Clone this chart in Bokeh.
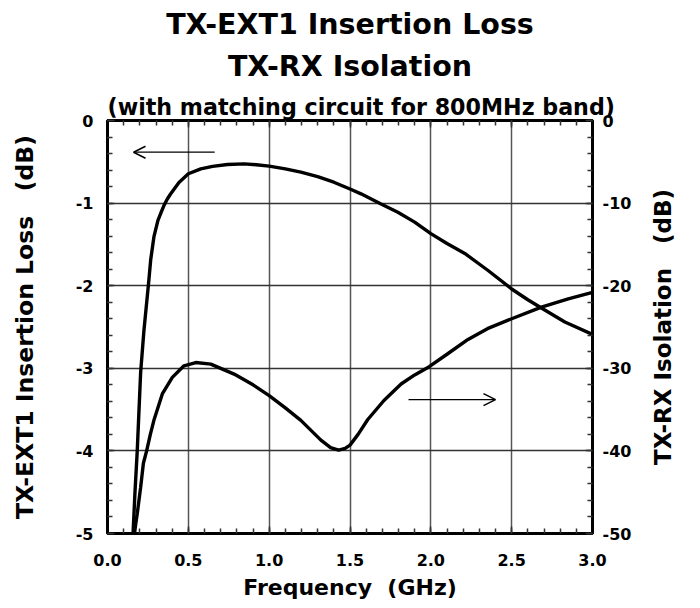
import math
from bokeh.plotting import figure
from bokeh.models import (Range1d, LinearAxis, SingleIntervalTicker, Title, Arrow, OpenHead, Label)
from bokeh.embed import file_html
from bokeh.resources import INLINE

# ---- data ----
il_freq = [0.158, 0.170, 0.184, 0.205, 0.225, 0.240, 0.255, 0.267, 0.287, 0.312,
           0.330, 0.349, 0.370, 0.390, 0.442, 0.500, 0.577, 0.650, 0.742, 0.845,
           0.920, 1.000, 1.100, 1.196, 1.300, 1.400, 1.500, 1.568, 1.692, 1.796,
           1.900, 2.000, 2.100, 2.210, 2.354, 2.500, 2.600, 2.684, 2.829, 3.000]
il_db = [-5.00, -4.50, -4.00, -3.05, -2.55, -2.25, -1.95, -1.69, -1.41, -1.21,
         -1.12, -1.03, -0.95, -0.89, -0.75, -0.645, -0.585, -0.555, -0.533, -0.525,
         -0.535, -0.553, -0.585, -0.625, -0.68, -0.747, -0.83, -0.888, -1.01, -1.11,
         -1.23, -1.37, -1.49, -1.61, -1.816, -2.04, -2.17, -2.27, -2.44, -2.59]

iso_freq = [0.167, 0.175, 0.184, 0.205, 0.222, 0.242, 0.265, 0.287, 0.339, 0.401,
            0.473, 0.546, 0.639, 0.783, 0.900, 1.000, 1.100, 1.196, 1.320, 1.380,
            1.430, 1.470, 1.500, 1.550, 1.610, 1.710, 1.816, 1.900, 1.990, 2.100,
            2.230, 2.350, 2.500, 2.684, 2.850, 3.000]
iso_db = [-50.0, -48.8, -47.6, -44.4, -41.5, -40.0, -38.0, -36.3, -33.1, -31.1,
          -29.7, -29.3, -29.5, -30.7, -32.0, -33.3, -34.8, -36.3, -38.7, -39.6,
          -39.9, -39.7, -39.3, -38.0, -36.2, -33.9, -31.9, -30.8, -29.8, -28.3,
          -26.5, -25.2, -24.0, -22.6, -21.6, -20.8]

x_ticks = [0.0, 0.5, 1.0, 1.5, 2.0, 2.5, 3.0]
il_ticks = [0, -1, -2, -3, -4, -5]
iso_ticks = [0, -10, -20, -30, -40, -50]

NB = "\u00a0"
title_lines = ["TX-EXT1 Insertion Loss", "TX-RX Isolation",
               "(with matching circuit for 800MHz band)"]
x_label = "Frequency" + NB * 2 + "(GHz)"
il_label = "TX-EXT1 Insertion Loss" + NB * 3 + "(dB)"
iso_label = "TX-RX Isolation" + NB * 3 + "(dB)"

FONT = "DejaVu Sans"

p = figure(width=700, height=608, output_backend="svg", toolbar_location=None,
           x_range=Range1d(0, 3), y_range=Range1d(-5, 0),
           min_border_left=107, min_border_right=108, min_border_bottom=75,
           min_border_top=120)
p.extra_y_ranges = {"iso": Range1d(-50, 0)}
p.background_fill_color = "white"
p.border_fill_color = "white"
p.outline_line_color = "black"
p.outline_line_width = 3

def style_axis(ax):
    ax.axis_line_width = 3
    ax.axis_line_color = "black"
    ax.major_tick_in = 7
    ax.major_tick_out = 0
    ax.minor_tick_in = 5
    ax.minor_tick_out = 0
    ax.major_tick_line_width = 1.5
    ax.minor_tick_line_width = 1.5
    ax.major_tick_line_color = "#333333"
    ax.minor_tick_line_color = "#333333"
    ax.major_label_text_font = FONT
    ax.major_label_text_font_style = "bold"
    ax.major_label_text_font_size = "16px"
    ax.major_label_text_color = "black"
    ax.axis_label_text_font = FONT
    ax.axis_label_text_font_style = "bold"
    ax.axis_label_text_font_size = "22px"
    ax.axis_label_text_color = "black"

xt = SingleIntervalTicker(interval=0.5, num_minor_ticks=5)
yt = SingleIntervalTicker(interval=1, num_minor_ticks=5)
rt = SingleIntervalTicker(interval=10, num_minor_ticks=5)

xa = p.xaxis[0]
xa.ticker = xt
xa.major_label_overrides = {v: f"{v:.1f}" for v in x_ticks}
xa.axis_label = x_label
style_axis(xa)
xa.major_label_standoff = 20
xa.axis_label_standoff = 6

ya = p.yaxis[0]
ya.ticker = yt
ya.major_label_overrides = {v: str(v) for v in il_ticks}
ya.axis_label = il_label
style_axis(ya)
ya.axis_label_text_font_size = "23.5px"
ya.major_label_standoff = 14
ya.axis_label_standoff = 34

ra = LinearAxis(y_range_name="iso", ticker=rt)
ra.major_label_overrides = {v: str(v) for v in iso_ticks}
style_axis(ra)
ra.major_label_standoff = 10
p.add_layout(ra, "right")

ta = LinearAxis(ticker=SingleIntervalTicker(interval=0.5, num_minor_ticks=5))
style_axis(ta)
ta.major_label_text_font_size = "0px"
ta.major_label_text_alpha = 0
ta.major_label_standoff = 0
p.add_layout(ta, "above")

p.xgrid.ticker = xt
p.ygrid.ticker = yt
p.xgrid.grid_line_color = "#555555"
p.xgrid.grid_line_width = 1.5
p.ygrid.grid_line_color = "#333333"
p.ygrid.grid_line_width = 1.5

p.line(il_freq, il_db, line_color="black", line_width=3.4)
p.line(iso_freq, iso_db, line_color="black", line_width=3.4, y_range_name="iso")

p.add_layout(Arrow(x_start=0.663, y_start=-0.384, x_end=0.161, y_end=-0.384,
                   line_width=1.3, line_color="black",
                   end=OpenHead(size=12, line_width=1.5, line_color="black")))
p.add_layout(Arrow(x_start=1.862, y_start=-33.8, x_end=2.40, y_end=-33.8,
                   y_range_name="iso", line_width=1.3, line_color="black",
                   end=OpenHead(size=12, line_width=1.5, line_color="black")))

# right-hand axis title, reading bottom-to-top like the reference
# (placed in the right side panel so it is not clipped to the frame)
p.add_layout(Label(x=662, y=-2.5, x_units="canvas", y_units="data", text=iso_label,
                   angle=math.pi / 2, text_align="center", text_baseline="middle",
                   text_font=FONT, text_font_style="bold", text_font_size="23px",
                   text_color="black"), "right")

p.title.text = title_lines[0]
p.title.align = "center"
p.title.text_font = FONT
p.title.text_font_size = "28.5px"
p.title.text_font_style = "bold"
p.title.text_color = "black"
p.title.standoff = 0
p.add_layout(Title(text=title_lines[2], align="left", text_font=FONT, text_color="black",
                   text_font_size="22.2px", text_font_style="bold", standoff=2, offset=0),
             "above")
p.add_layout(Title(text=title_lines[1], align="center", text_font=FONT, text_color="black",
                   text_font_size="28.5px", text_font_style="bold", standoff=15), "above")

open("out.html", "w").write(file_html(p, INLINE))
